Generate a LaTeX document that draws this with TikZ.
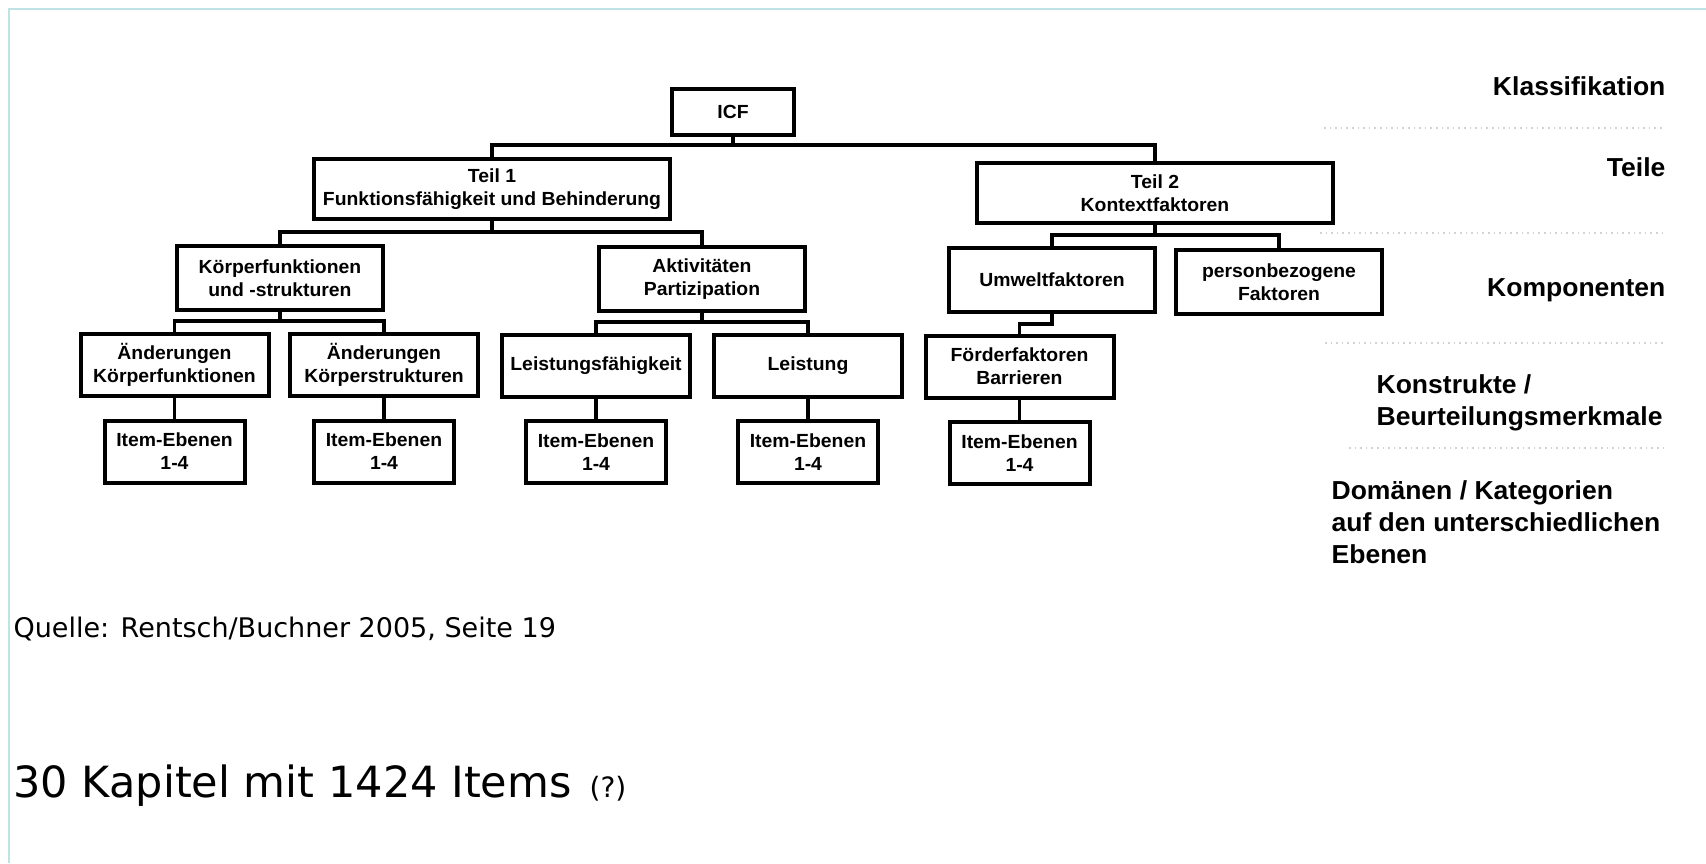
\documentclass[tikz,border=0pt]{standalone}
\usepackage{fontspec}
\setmainfont{Liberation Sans}
\newfontfamily\scanfont{Liberation Sans}[FakeStretch=1.02]
\newfontfamily\webfont{DejaVu Sans}
\definecolor{pageframe}{RGB}{190,226,229}

\begin{document}
\begin{tikzpicture}[x=0.5pt,y=-0.5pt,line width=1.6pt]
\tikzstyle{box}=[draw,line width=2pt,align=center,inner sep=0pt,font=\scanfont\bfseries\fontsize{9.5}{11.5}\selectfont]
\tikzstyle{teil}=[box,minimum width=178pt,minimum height=30pt]
\tikzstyle{komp}=[box,minimum width=103pt,minimum height=32pt]
\tikzstyle{konstr}=[box,minimum width=94pt,minimum height=31pt]
\tikzstyle{item}=[box,minimum width=70pt,minimum height=31pt]
\tikzstyle{lab}=[inner sep=0pt,font=\scanfont\bfseries\fontsize{13}{16}\selectfont]
\useasboundingbox (0,0) rectangle (1706,863);
\draw[pageframe,line width=1pt] (9,863) -- (9,9) -- (1706,9);

% faint separators of the scan
\foreach \y/\a in {128/1324,233/1320,343/1325,448/1349}
  \draw[gray!35,dotted,line width=0.8pt] (\a,\y) -- (1665,\y);

\node[box,minimum width=61pt,minimum height=23pt](ICF) at (733,112) {ICF};
\node[teil](T1) at (492,189) {Teil 1\\Funktionsfähigkeit und Behinderung};
\node[teil](T2) at (1155,193) {Teil 2\\Kontextfaktoren};
\node[komp](KF) at (280,278) {Körperfunktionen\\und -strukturen};
\node[komp](AP) at (702,279) {Aktivitäten\\Partizipation};
\node[komp](UF) at (1052,280) {Umweltfaktoren};
\node[komp](PF) at (1279,282) {personbezogene\\Faktoren};
\node[konstr](AKF) at (174.5,365) {Änderungen\\Körperfunktionen};
\node[konstr](AKS) at (384,365) {Änderungen\\Körperstrukturen};
\node[konstr](LF) at (596,366) {Leistungsfähigkeit};
\node[konstr](L) at (808,366) {Leistung};
\node[konstr](FB) at (1019.5,366.5) {Förderfaktoren\\Barrieren};
\node[item](I1) at (174.5,451.5) {Item-Ebenen\\1-4};
\node[item](I2) at (384,451.5) {Item-Ebenen\\1-4};
\node[item](I3) at (596,452) {Item-Ebenen\\1-4};
\node[item](I4) at (808,452) {Item-Ebenen\\1-4};
\node[item](I5) at (1019.5,453) {Item-Ebenen\\1-4};

\draw (ICF.south) -- ++(0,8) -| (T1.north);
\draw (ICF.south) -- ++(0,8) -| (T2.north);
\draw (T1.south) -- ++(0,11) -| (KF.north);
\draw (T1.south) -- ++(0,11) -| (AP.north);
\draw (T2.south) -- ++(0,10) -| (UF.north);
\draw (T2.south) -- ++(0,10) -| (PF.north);
\draw (KF.south) -- ++(0,9) -| (AKF.north);
\draw (KF.south) -- ++(0,9) -| (AKS.north);
\draw (AP.south) -- ++(0,9) -| (LF.north);
\draw (AP.south) -- ++(0,9) -| (L.north);
\draw (UF.south) -- ++(0,10) -| (FB.north);
\draw (AKF) -- (I1);
\draw (AKS) -- (I2);
\draw (LF) -- (I3);
\draw (L) -- (I4);
\draw (FB) -- (I5);

\node[lab,anchor=base east](klass) at (1667,95) {Klassifikation};
\node[lab,anchor=base east](teile) at (1667,176) {Teile};
\node[lab,anchor=base east](kompo) at (1667,296) {Komponenten};
\node[lab,anchor=north west,align=left](konst) at (1375,373) {Konstrukte /\\Beurteilungsmerkmale};
\node[lab,anchor=north west,align=left](domae) at (1330,479) {Domänen / Kategorien\\auf den unterschiedlichen\\Ebenen};

\node[anchor=base west,inner sep=0pt,font=\webfont\fontsize{13.5}{16}\selectfont](quelle) at (12,637) {Quelle: Rentsch/Buchner 2005, Seite 19};
\node[anchor=base west,inner sep=0pt,font=\webfont\fontsize{21.5}{26}\selectfont](kapitel) at (12,797) {30 Kapitel mit 1424 Items};
\node[anchor=base west,inner sep=0pt,font=\webfont\fontsize{14}{16}\selectfont](frage) at (588,797) {(?)};
\end{tikzpicture}
\end{document}
